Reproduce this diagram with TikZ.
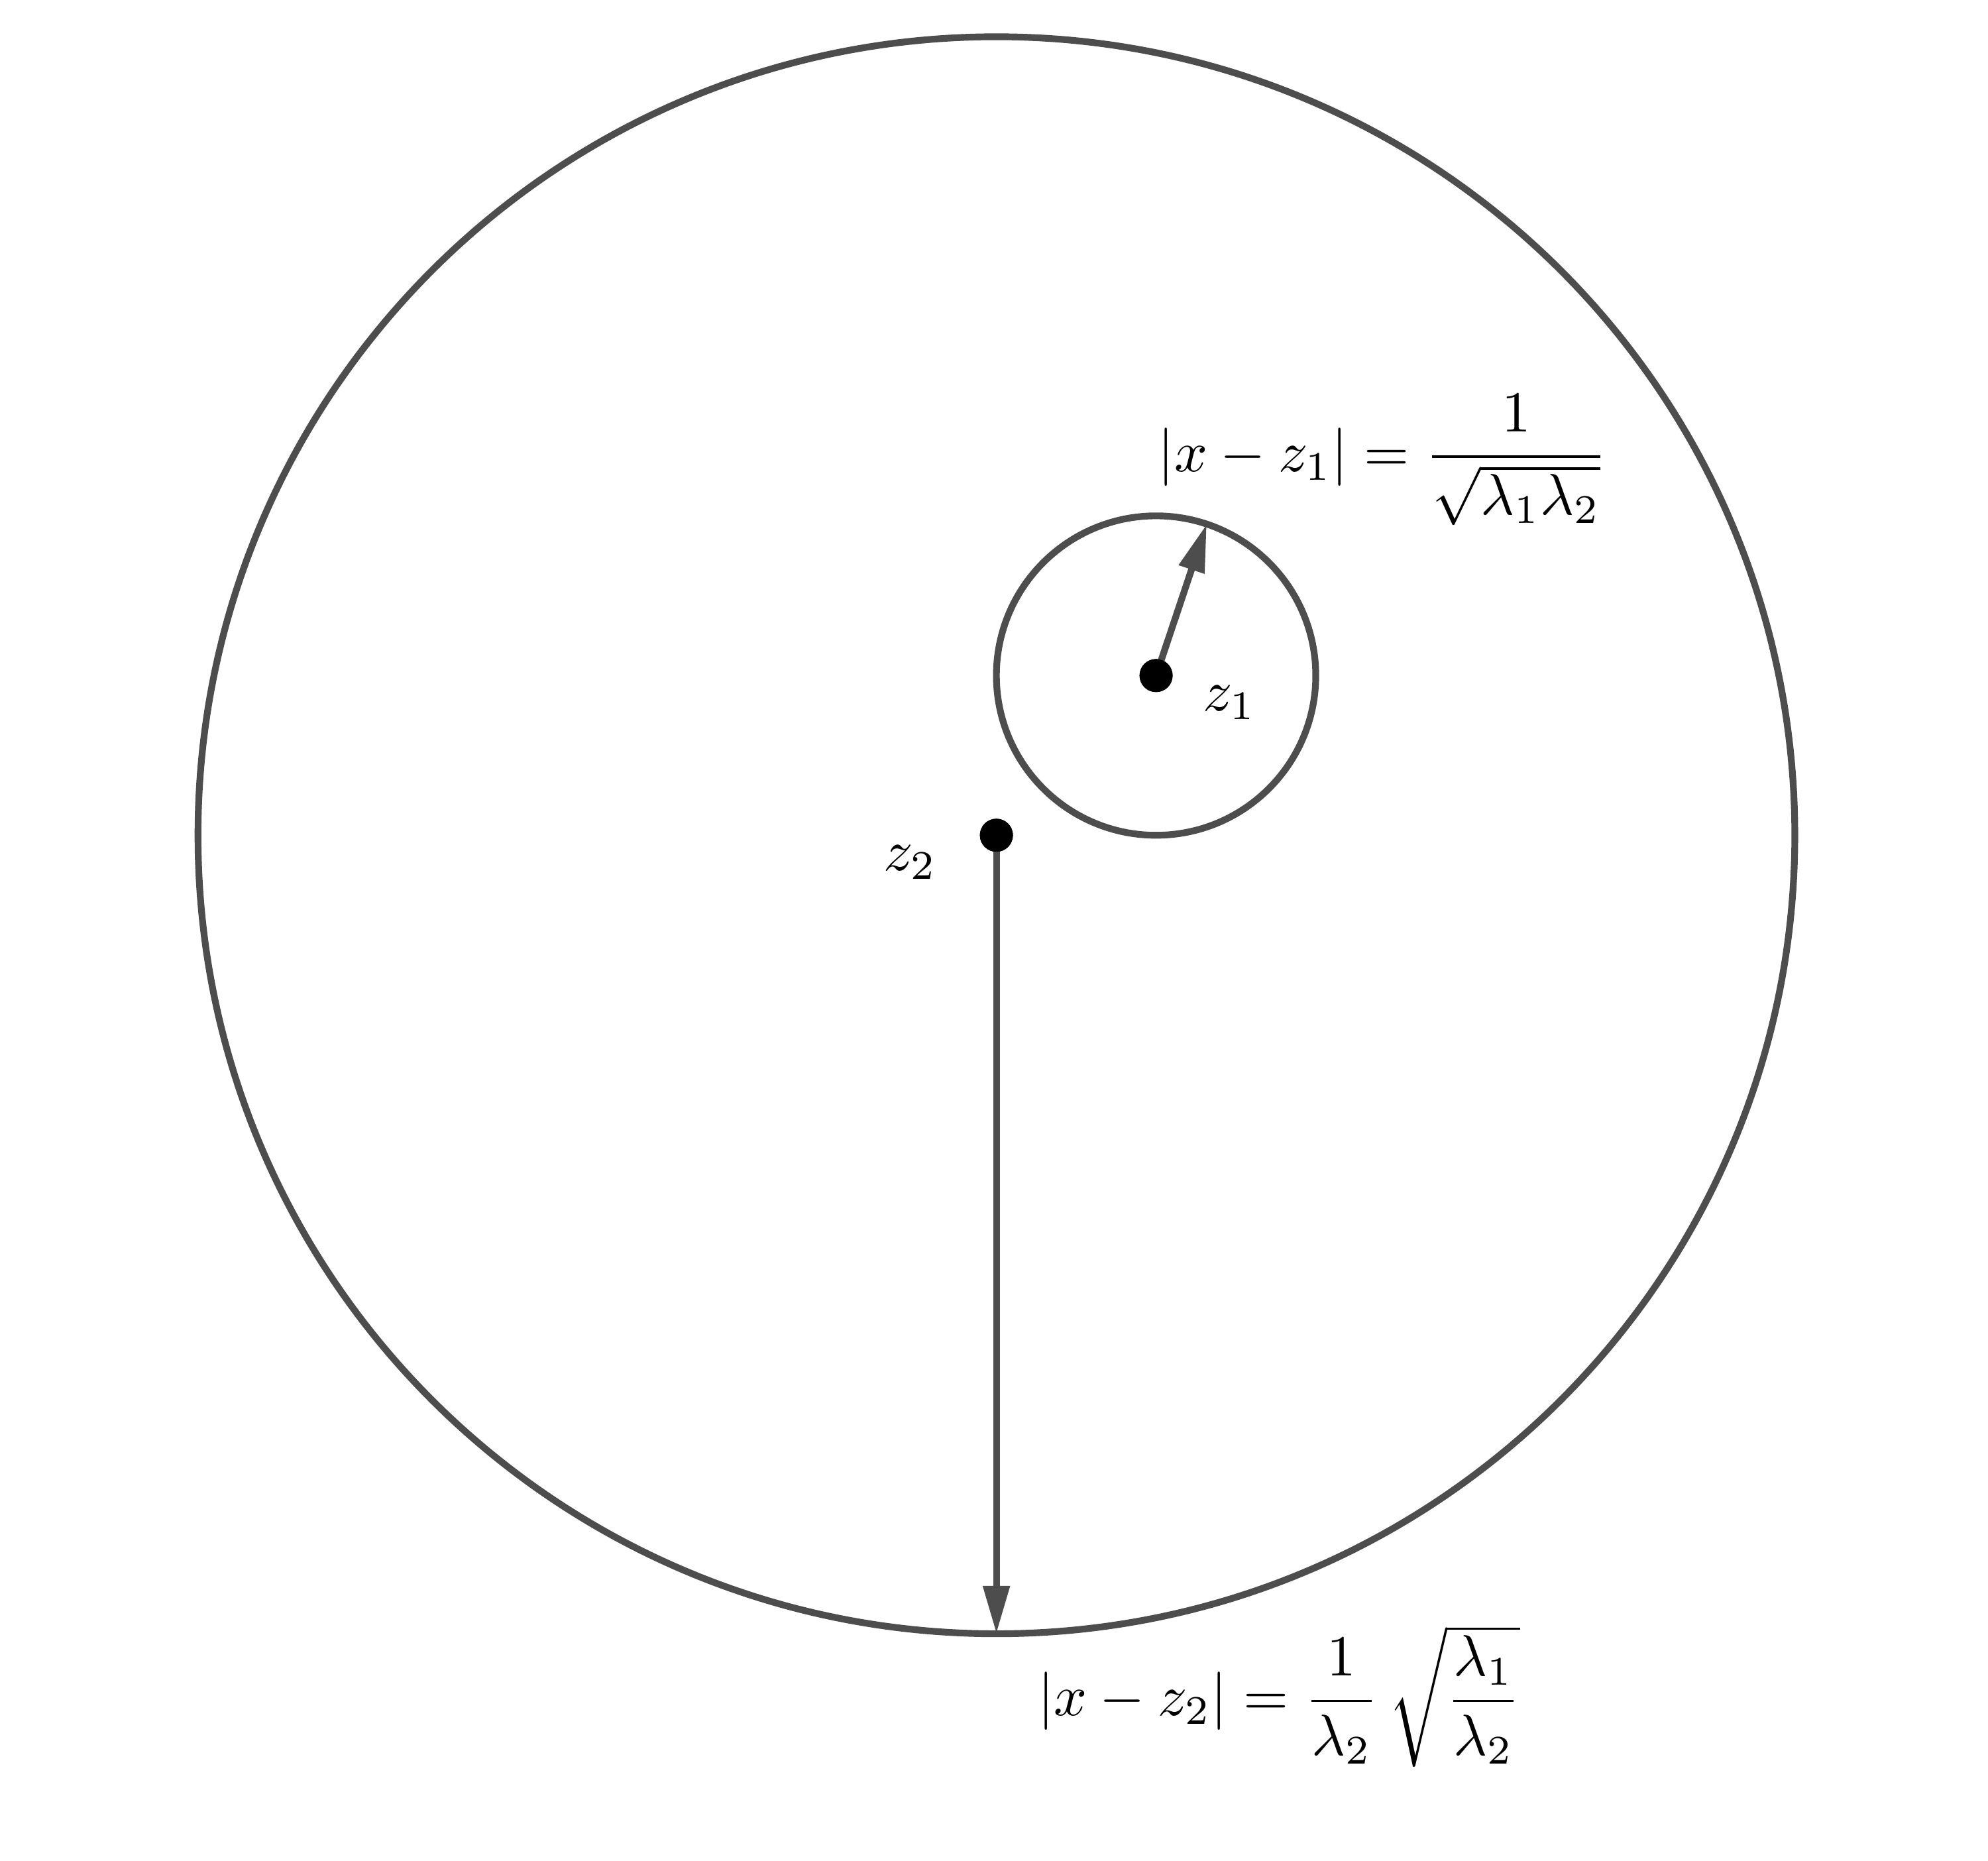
\documentclass[tikz,border=0pt]{standalone}
\usepackage{amsmath}
\usetikzlibrary{arrows.meta}
\definecolor{linegray}{HTML}{4D4D4D}

\begin{document}
\begin{tikzpicture}[line width=1.2pt,
    every node/.style={scale=1.035},
    circ/.style={draw=linegray},
    rad/.style={draw=linegray,-{Triangle[length=3mm,width=1.6mm]}},
    dot/.style={circle,fill=black,inner sep=0pt,minimum size=2mm}]
  \def\rone{1}
  \def\rtwo{5}
  \useasboundingbox (-6.24,-6.42) rectangle (6.21,5.23);
  %
  \node[dot] (z2) at (0,0) {};
  \node[dot] (z1) at (1,1) {};
  \draw[circ] (z2.center) circle (\rtwo);
  \draw[circ] (z1.center) circle (\rone);
  %
  \path (z1.center) ++(71.5:\rone) coordinate (t1);
  \path (z2.center) ++(0,-\rtwo) coordinate (t2);
  \draw[rad] (z1.center) -- (t1);
  \draw[rad] (z2.center) -- (t2);
  \node[dot] at (z1) {};
  \node[dot] at (z2) {};
  %
  \node (lz1) at (1.46,0.83) {$z_1$};
  \node (lz2) at (-0.54,-0.17) {$z_2$};
  \node (eq1) at (2.42,2.35) {$|x-z_1|=\dfrac{1}{\sqrt{\lambda_1\lambda_2}}$};
  \node (eq2) at (1.77,-5.39) {$|x-z_2|=\dfrac{1}{\lambda_2}\,\sqrt{\dfrac{\lambda_1}{\lambda_2}}$};
\end{tikzpicture}
\end{document}
